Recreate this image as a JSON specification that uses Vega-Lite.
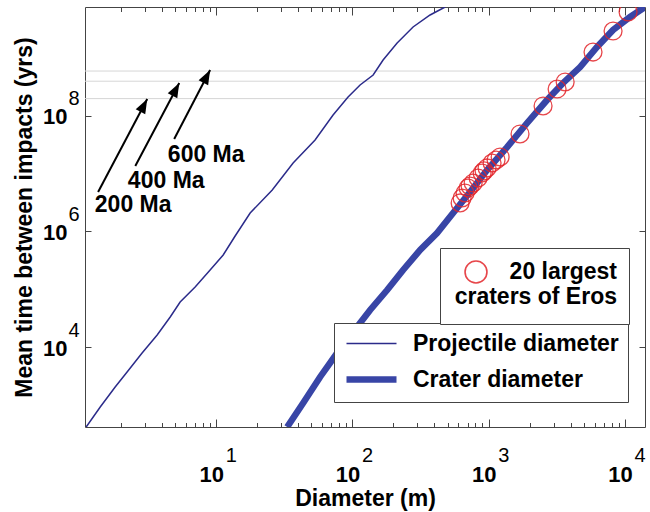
{
  "$schema": "https://vega.github.io/schema/vega-lite/v6.json",
  "width": 560,
  "height": 420,
  "autosize": "none",
  "padding": {"left": 85, "top": 7, "right": 5, "bottom": 85},
  "background": "white",
  "config": {
    "view": {"stroke": "#444", "strokeWidth": 1},
    "font": "Liberation Sans",
    "axis": {"grid": false, "domain": false, "labelFlush": false, "labelOverlap": false, "labelBound": false, "tickColor": "#444", "tickWidth": 1, "labelColor": "black", "titleColor": "black", "labelFont": "Liberation Sans", "titleFont": "Liberation Sans"}
  },
  "datasets": {
    "curves": [
      {"series": "Projectile diameter", "d": 1.112, "t": 412},
      {"series": "Projectile diameter", "d": 1.41, "t": 914},
      {"series": "Projectile diameter", "d": 1.815, "t": 2028},
      {"series": "Projectile diameter", "d": 2.22, "t": 3690},
      {"series": "Projectile diameter", "d": 2.86, "t": 7870},
      {"series": "Projectile diameter", "d": 3.69, "t": 16140},
      {"series": "Projectile diameter", "d": 4.6, "t": 33040},
      {"series": "Projectile diameter", "d": 5.44, "t": 60100},
      {"series": "Projectile diameter", "d": 7.01, "t": 109400},
      {"series": "Projectile diameter", "d": 9.03, "t": 215300},
      {"series": "Projectile diameter", "d": 11.26, "t": 391700},
      {"series": "Projectile diameter", "d": 13.78, "t": 835000},
      {"series": "Projectile diameter", "d": 17.76, "t": 2090000},
      {"series": "Projectile diameter", "d": 25.8, "t": 5230000},
      {"series": "Projectile diameter", "d": 36.7, "t": 15350000},
      {"series": "Projectile diameter", "d": 53.2, "t": 38400000},
      {"series": "Projectile diameter", "d": 72.1, "t": 104000000},
      {"series": "Projectile diameter", "d": 92.9, "t": 213000000},
      {"series": "Projectile diameter", "d": 113.8, "t": 344000000},
      {"series": "Projectile diameter", "d": 141.9, "t": 513000000},
      {"series": "Projectile diameter", "d": 167.9, "t": 933000000},
      {"series": "Projectile diameter", "d": 212.8, "t": 1837000000},
      {"series": "Projectile diameter", "d": 278.6, "t": 3480000000},
      {"series": "Projectile diameter", "d": 371.5, "t": 5610000000},
      {"series": "Projectile diameter", "d": 478.6, "t": 7710000000},
      {"series": "Crater diameter", "d": 33.2, "t": 412},
      {"series": "Crater diameter", "d": 43.5, "t": 1072},
      {"series": "Crater diameter", "d": 57.9, "t": 3027},
      {"series": "Crater diameter", "d": 77.2, "t": 7870},
      {"series": "Crater diameter", "d": 101.2, "t": 18200},
      {"series": "Crater diameter", "d": 134.9, "t": 43750},
      {"series": "Crater diameter", "d": 179.8, "t": 97100},
      {"series": "Crater diameter", "d": 235.5, "t": 215300},
      {"series": "Crater diameter", "d": 314, "t": 478600},
      {"series": "Crater diameter", "d": 418, "t": 942000},
      {"series": "Crater diameter", "d": 548, "t": 2090000},
      {"series": "Crater diameter", "d": 730, "t": 4830000},
      {"series": "Crater diameter", "d": 973, "t": 11600000},
      {"series": "Crater diameter", "d": 1365, "t": 29000000},
      {"series": "Crater diameter", "d": 1914, "t": 75600000},
      {"series": "Crater diameter", "d": 2680, "t": 189000000},
      {"series": "Crater diameter", "d": 3515, "t": 373000000},
      {"series": "Crater diameter", "d": 4690, "t": 705000000},
      {"series": "Crater diameter", "d": 6240, "t": 1567000000},
      {"series": "Crater diameter", "d": 8180, "t": 3080000000},
      {"series": "Crater diameter", "d": 10900, "t": 5180000000},
      {"series": "Crater diameter", "d": 14030, "t": 7710000000}
    ],
    "craters": [
      {"d": 10540, "t": 6320000000},
      {"d": 8180, "t": 2960000000},
      {"d": 5830, "t": 1280000000},
      {"d": 3640, "t": 388000000},
      {"d": 3177, "t": 293000000},
      {"d": 2506, "t": 149000000},
      {"d": 1698, "t": 48800000},
      {"d": 1213, "t": 19500000},
      {"d": 1133, "t": 17300000},
      {"d": 1059, "t": 15350000},
      {"d": 973, "t": 12600000},
      {"d": 925, "t": 11200000},
      {"d": 895, "t": 10300000},
      {"d": 836, "t": 8440000},
      {"d": 769, "t": 6920000},
      {"d": 730, "t": 6140000},
      {"d": 706, "t": 5660000},
      {"d": 671, "t": 4640000},
      {"d": 638, "t": 3800000},
      {"d": 617, "t": 3120000}
    ],
    "ages": [
      {"age": "200 Ma", "t": 200000000, "x0": 1.36, "y0": 4830000, "x1": 3.12, "y1": 197000000, "lx": 2.46, "ly": 2880000},
      {"age": "400 Ma", "t": 400000000, "x0": 2.55, "y0": 13600000, "x1": 5.36, "y1": 373000000, "lx": 4.3, "ly": 7490000},
      {"age": "600 Ma", "t": 600000000, "x0": 4.92, "y0": 40000000, "x1": 9.03, "y1": 626000000, "lx": 8.45, "ly": 20700000}
    ]
  },
  "resolve": {"axis": {"x": "independent", "y": "independent"}},
  "layer": [
    {
      "data": {"name": "ages"},
      "mark": {"type": "rule", "color": "#d6d6d6", "strokeWidth": 1},
      "encoding": {
        "y": {"field": "t", "type": "quantitative", "scale": {"type": "log", "domain": [412, 7710000000], "nice": false}, "axis": null}
      }
    },
    {
      "data": {"name": "curves"},
      "mark": {"type": "line", "clip": true},
      "encoding": {
        "x": {"field": "d", "type": "quantitative", "scale": {"type": "log", "domain": [1.09, 14030], "nice": false},
          "axis": {"orient": "bottom", "values": [2,3,4,5,6,7,8,9,10,20,30,40,50,60,70,80,90,100,200,300,400,500,600,700,800,900,1000,2000,3000,4000,5000,6000,7000,8000,9000,10000], "labels": false, "title": null,
            "tickSize": {"condition": {"test": "indexof([10,100,1000,10000], datum.value) >= 0", "value": -8}, "value": -4.5}}},
        "y": {"field": "t", "type": "quantitative", "scale": {"type": "log", "domain": [412, 7710000000], "nice": false},
          "axis": {"orient": "left", "values": [10000, 1000000, 100000000], "labels": false, "title": null, "tickSize": -6}},
        "color": {"field": "series", "type": "ordinal", "sort": ["Projectile diameter", "Crater diameter"], "scale": {"domain": ["Projectile diameter", "Crater diameter"], "range": ["#2b2b8a", "#3845a6"]},
          "legend": {"orient": "none", "legendX": 249, "legendY": 316, "title": null, "symbolType": "M-1,0H4", "symbolSize": 400, "symbolOffset": 0, "labelOffset": 43, "labelFontSize": 23, "labelFontWeight": "bold", "labelFont": "Liberation Sans", "labelColor": "black", "labelLimit": 400, "padding": 9, "rowPadding": 10, "strokeColor": "#444", "fillColor": "white"}},
        "strokeWidth": {"field": "series", "type": "ordinal", "sort": ["Projectile diameter", "Crater diameter"], "scale": {"domain": ["Projectile diameter", "Crater diameter"], "range": [1.5, 6.5]},
          "legend": {"orient": "none", "legendX": 249, "legendY": 316, "title": null, "symbolType": "M-1,0H4", "symbolSize": 400, "symbolOffset": 0, "labelOffset": 43, "labelFontSize": 23, "labelFontWeight": "bold", "labelFont": "Liberation Sans", "labelColor": "black", "labelLimit": 400, "padding": 9, "rowPadding": 10, "strokeColor": "#444", "fillColor": "white"}}
      }
    },
    {
      "data": {"name": "craters"},
      "mark": {"type": "point", "shape": "circle", "filled": false, "size": 320, "strokeWidth": 1.3, "opacity": 0.85, "clip": true},
      "encoding": {
        "x": {"field": "d", "type": "quantitative", "scale": {"type": "log", "domain": [1.09, 14030], "nice": false},
          "axis": {"orient": "bottom", "values": [10, 100, 1000, 10000], "ticks": false, "labelExpr": "'10'", "labelFontSize": 22, "labelFontWeight": "bold", "labelAlign": "center", "labelBaseline": "top", "labelOffset": -5, "labelPadding": 37,
            "title": "Diameter (m)", "titleFontSize": 23, "titleFontWeight": "bold", "titlePadding": 2}},
        "y": {"field": "t", "type": "quantitative", "scale": {"type": "log", "domain": [412, 7710000000], "nice": false},
          "axis": {"orient": "left", "values": [10000, 1000000, 100000000], "ticks": false, "labelExpr": "'10'", "labelFontSize": 22, "labelFontWeight": "bold", "labelAlign": "right", "labelBaseline": "middle", "labelOffset": 1, "labelPadding": 18,
            "title": "Mean time between impacts (yrs)", "titleFontSize": 23, "titleFontWeight": "bold", "titlePadding": 6}},
        "stroke": {"datum": "20 largest craters of Eros", "type": "nominal", "scale": {"range": ["#e3262b"]},
          "legend": {"orient": "none", "legendX": 355, "legendY": 241, "title": " ", "titleOrient": "bottom", "titleFontSize": 2, "titlePadding": 1, "symbolType": "circle", "symbolSize": 480, "symbolStrokeWidth": 1.6, "symbolOffset": 12, "labelExpr": "['20 largest', 'craters of Eros']", "labelAlign": "right", "labelBaseline": "middle", "labelOffset": 129, "labelFontSize": 23, "labelFontWeight": "bold", "labelFont": "Liberation Sans", "labelColor": "black", "labelLimit": 400, "padding": 12, "strokeColor": "#444", "fillColor": "white",
            "encode": {"labels": {"update": {"lineHeight": {"value": 27}}}}}}
      }
    },
    {
      "data": {"name": "ages"},
      "mark": {"type": "rule", "color": "black", "strokeWidth": 2},
      "encoding": {
        "x": {"field": "x0", "type": "quantitative", "scale": {"type": "log", "domain": [1.09, 14030], "nice": false},
          "axis": {"orient": "bottom", "values": [10, 100, 1000, 10000], "ticks": false, "labelExpr": "'' + round(log(datum.value) / LN10)", "labelFontSize": 20, "labelFontWeight": "normal", "labelAlign": "left", "labelBaseline": "top", "labelOffset": 9, "labelPadding": 18, "title": null}},
        "x2": {"field": "x1"},
        "y": {"field": "y0", "type": "quantitative", "scale": {"type": "log", "domain": [412, 7710000000], "nice": false},
          "axis": {"orient": "left", "values": [10000, 1000000, 100000000], "ticks": false, "labelExpr": "'' + round(log(datum.value) / LN10)", "labelFontSize": 20, "labelFontWeight": "normal", "labelAlign": "left", "labelBaseline": "middle", "labelOffset": -17, "labelPadding": 17, "title": null}},
        "y2": {"field": "y1"}
      }
    },
    {
      "data": {"name": "ages"},
      "mark": {"type": "point", "shape": "M0,0L-0.45,1.2L0.45,1.2Z", "filled": true, "color": "black", "opacity": 1, "size": 576, "angle": 28},
      "encoding": {
        "x": {"field": "x1", "type": "quantitative", "scale": {"type": "log", "domain": [1.09, 14030], "nice": false},
          "axis": {"orient": "top", "values": [2,3,4,5,6,7,8,9,10,20,30,40,50,60,70,80,90,100,200,300,400,500,600,700,800,900,1000,2000,3000,4000,5000,6000,7000,8000,9000,10000], "labels": false, "title": null,
            "tickSize": {"condition": {"test": "indexof([10,100,1000,10000], datum.value) >= 0", "value": -8}, "value": -4.5}}},
        "y": {"field": "y1", "type": "quantitative", "scale": {"type": "log", "domain": [412, 7710000000], "nice": false},
          "axis": {"orient": "right", "values": [10000, 1000000, 100000000], "labels": false, "title": null, "tickSize": -6}}
      }
    },
    {
      "data": {"name": "ages"},
      "mark": {"type": "text", "fontSize": 23, "fontWeight": "bold", "font": "Liberation Sans", "color": "black", "align": "center", "baseline": "middle"},
      "encoding": {
        "x": {"field": "lx", "type": "quantitative", "scale": {"type": "log", "domain": [1.09, 14030], "nice": false}, "axis": null},
        "y": {"field": "ly", "type": "quantitative", "scale": {"type": "log", "domain": [412, 7710000000], "nice": false}, "axis": null},
        "text": {"field": "age"}
      }
    }
  ]
}
